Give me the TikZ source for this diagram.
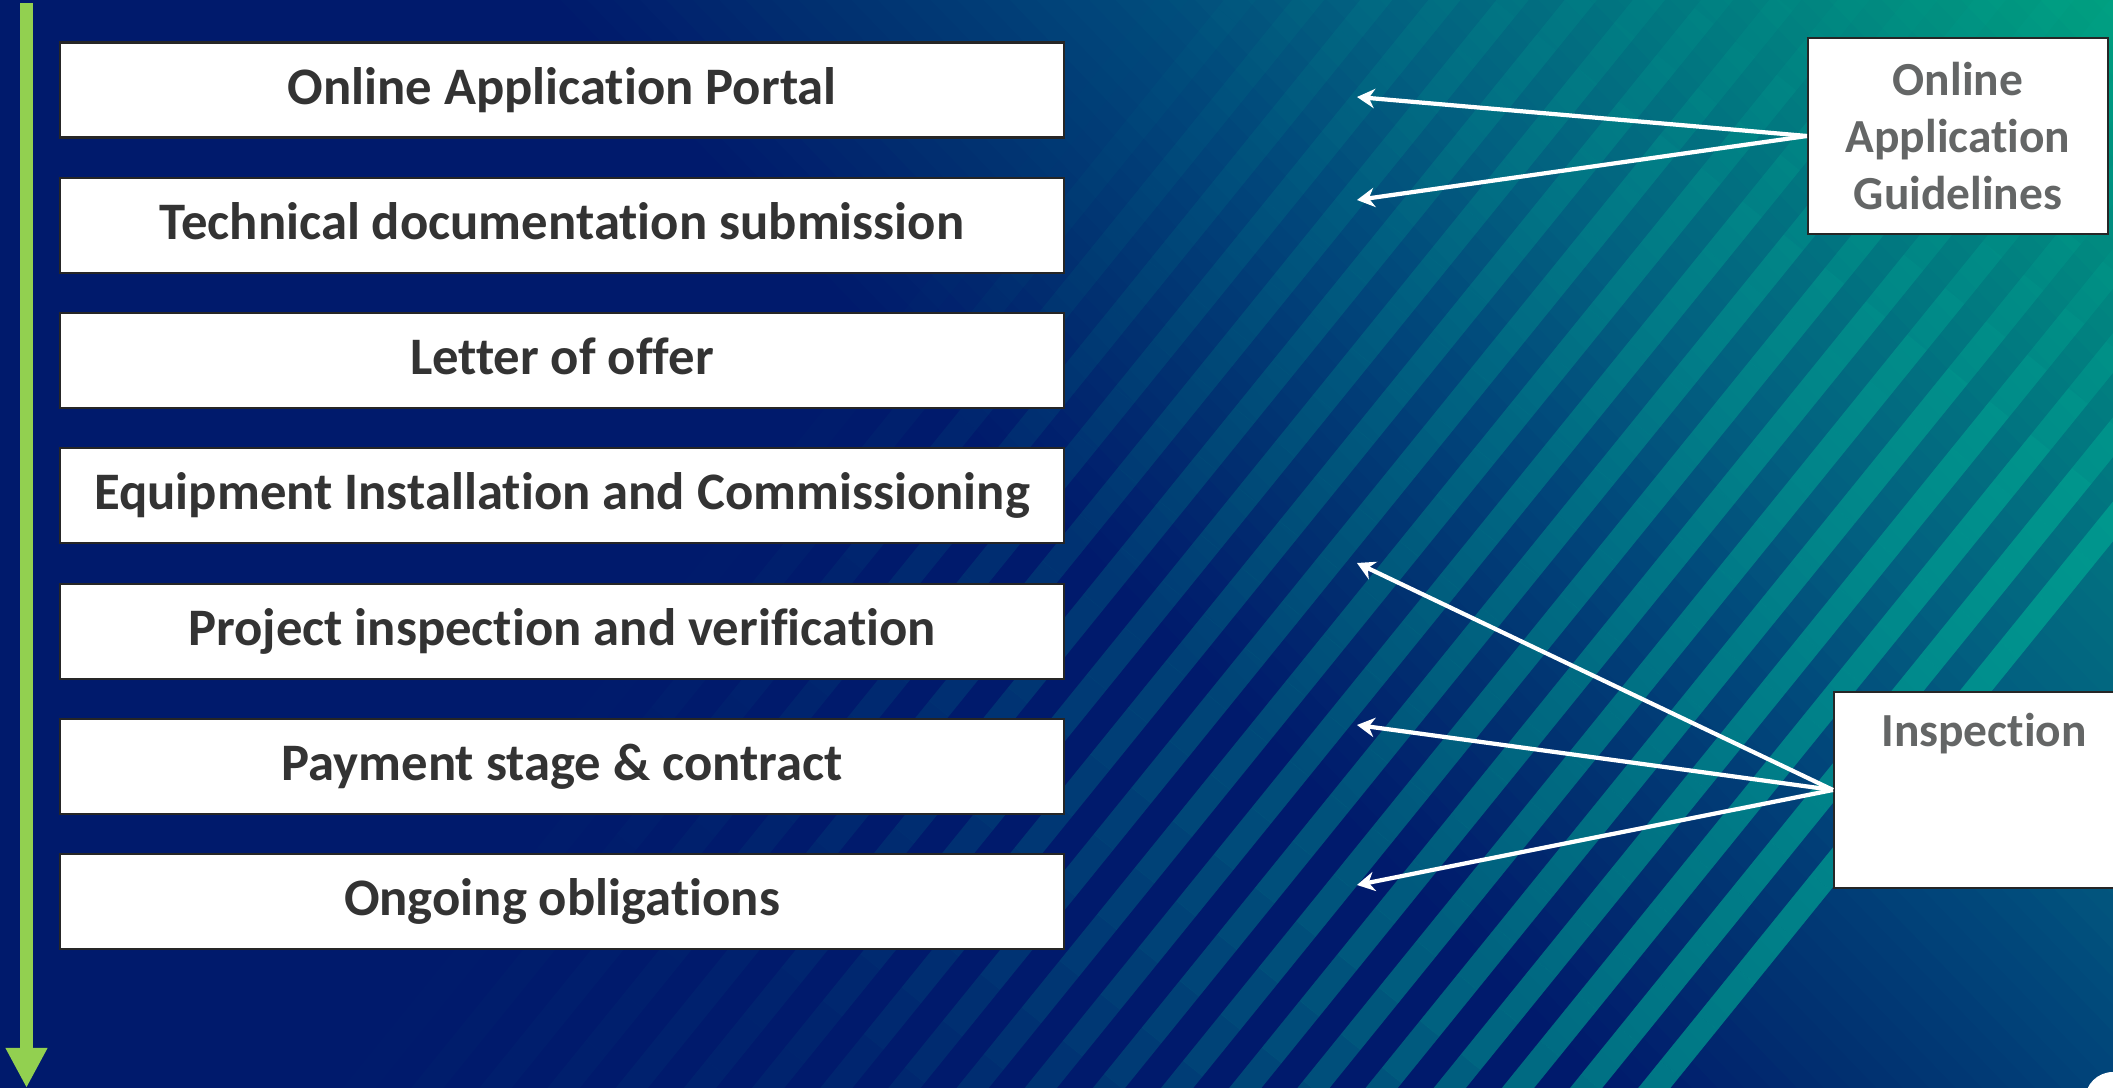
\documentclass[tikz,border=0pt]{standalone}
\usepackage{fontspec}
\setmainfont{Carlito}[Ligatures=NoCommon]
\usepackage{xcolor}
\usetikzlibrary{arrows.meta, calc}

\definecolor{bgnavy}{RGB}{0,26,108}
\definecolor{bgdeep}{RGB}{1,48,112}
\definecolor{bgblue}{RGB}{1,69,122}
\definecolor{bgpetrol}{RGB}{2,96,128}
\definecolor{bgsea}{RGB}{1,122,128}
\definecolor{bgteal}{RGB}{0,160,128}
\definecolor{stripeteal}{RGB}{0,175,150}
\definecolor{flowgreen}{RGB}{146,208,80}
\definecolor{boxtext}{RGB}{51,51,51}
\definecolor{notetext}{RGB}{100,102,102}

% colour of one background band, #1 = position along the gradient (px)
\newcommand\mixband[5]{\pgfmathsetmacro\bandp{min(100,(#1-#2)/#3*100)}\colorlet{bandc}{#5!\bandp!#4}}
\newcommand\bandcolor[1]{%
  \ifdim #1pt<400pt \colorlet{bandc}{bgnavy}%
  \else\ifdim #1pt<582pt \mixband{#1}{400}{182}{bgnavy}{bgdeep}%
  \else\ifdim #1pt<776pt \mixband{#1}{582}{194}{bgdeep}{bgblue}%
  \else\ifdim #1pt<971pt \mixband{#1}{776}{195}{bgblue}{bgpetrol}%
  \else\ifdim #1pt<1213pt \mixband{#1}{971}{242}{bgpetrol}{bgsea}%
  \else \mixband{#1}{1213}{306}{bgsea}{bgteal}\fi\fi\fi\fi\fi}

\tikzset{
  stepbox/.style={draw=black!85, line width=0.6pt, fill=white, minimum width=100.4mm, minimum height=9.5mm,
    text height=11pt, text depth=3pt, font=\fontsize{15}{18}\selectfont\bfseries, text=boxtext},
  notebox/.style={draw=black!85, line width=0.6pt, fill=white, minimum width=30mm, minimum height=19.6mm,
    align=center, font=\fontsize{13.5}{16.2}\selectfont\bfseries, text=notetext},
  pointer/.style={white, line width=1.2pt, -{Stealth[length=5pt, width=5.5pt]}},
  flowline/.style={flowgreen, line width=1.3mm, -{Triangle[length=4mm, width=3.9mm]}}
}

\begin{document}
\begin{tikzpicture}[x=0.1mm, y=-0.1mm]
\useasboundingbox (0,0) rectangle (2113,1088);

% Background (diagonal gradient, navy -> teal)
\begin{scope}
\clip (0,0) rectangle (2113,1088);
\foreach \k in {0,...,119} {
  \pgfmathsetmacro\sa{-756+\k*19}
  \pgfmathsetmacro\sb{\sa+21}
  \pgfmathsetmacro\sm{\sa+9.5}
  \bandcolor{\sm}
  \fill[bandc] ({\sa*0.719-3000*0.695},{-\sa*0.695-3000*0.719}) -- ({\sa*0.719+3000*0.695},{-\sa*0.695+3000*0.719})
    -- ({\sb*0.719+3000*0.695},{-\sb*0.695+3000*0.719}) -- ({\sb*0.719-3000*0.695},{-\sb*0.695-3000*0.719}) -- cycle;
}
% stripes, fading away from the lower right edge
\foreach \s in {1971,1918,...,880} {
  \pgfmathsetmacro\fa{0.62*max(0,1-(1984-\s)/1100)}
  \foreach \a in {-860,-800,...,1340} {
    \pgfmathsetmacro\op{\fa*min(1,max(0.3,0.3+0.7*(\a+330)/450),max(0.25,1-(\a-870)*0.003))}
    \fill[stripeteal, opacity=\op]
      ({(\s-12.5)*0.777+\a*0.629},{(\s-12.5)*0.629-\a*0.777}) -- ({(\s+12.5)*0.777+\a*0.629},{(\s+12.5)*0.629-\a*0.777})
      -- ({(\s+12.5)*0.777+(\a+60)*0.629},{(\s+12.5)*0.629-(\a+60)*0.777}) -- ({(\s-12.5)*0.777+(\a+60)*0.629},{(\s-12.5)*0.629-(\a+60)*0.777}) -- cycle;
  }
}
\fill[white] (2113,1100) circle (28);
\end{scope}

% Process flow
\coordinate (flowtop) at (26.5,3);
\coordinate (flowend) at (26.5,1088);
\draw[flowline] (flowtop) -- (flowend);

\foreach \txt [count=\i] in {Online Application Portal, Technical documentation submission, Letter of offer,
    Equipment Installation and Commissioning, Project inspection and verification, Payment stage \& contract, Ongoing obligations}
  \node[stepbox] (step\i) at (562,{90+(\i-1)*135.3}) {\txt};

% Guidelines
\node[notebox] (guide) at (1958,136) {Online\\Application\\Guidelines};
\coordinate (g1) at (1357,97);
\coordinate (g2) at (1357,200);
\draw[pointer] (guide.west) -- (g1);
\draw[pointer] (guide.west) -- (g2);

% Inspection
\node[notebox, inner ysep=0pt, text height=5.5mm, text depth=14.1mm] (insp) at (1984,790) {Inspection};
\coordinate (i1) at (1357,563);
\coordinate (i2) at (1357,725);
\coordinate (i3) at (1357,885);
\foreach \c in {i1,i2,i3}
  \draw[pointer] (insp.west) -- (\c);
\end{tikzpicture}
\end{document}
